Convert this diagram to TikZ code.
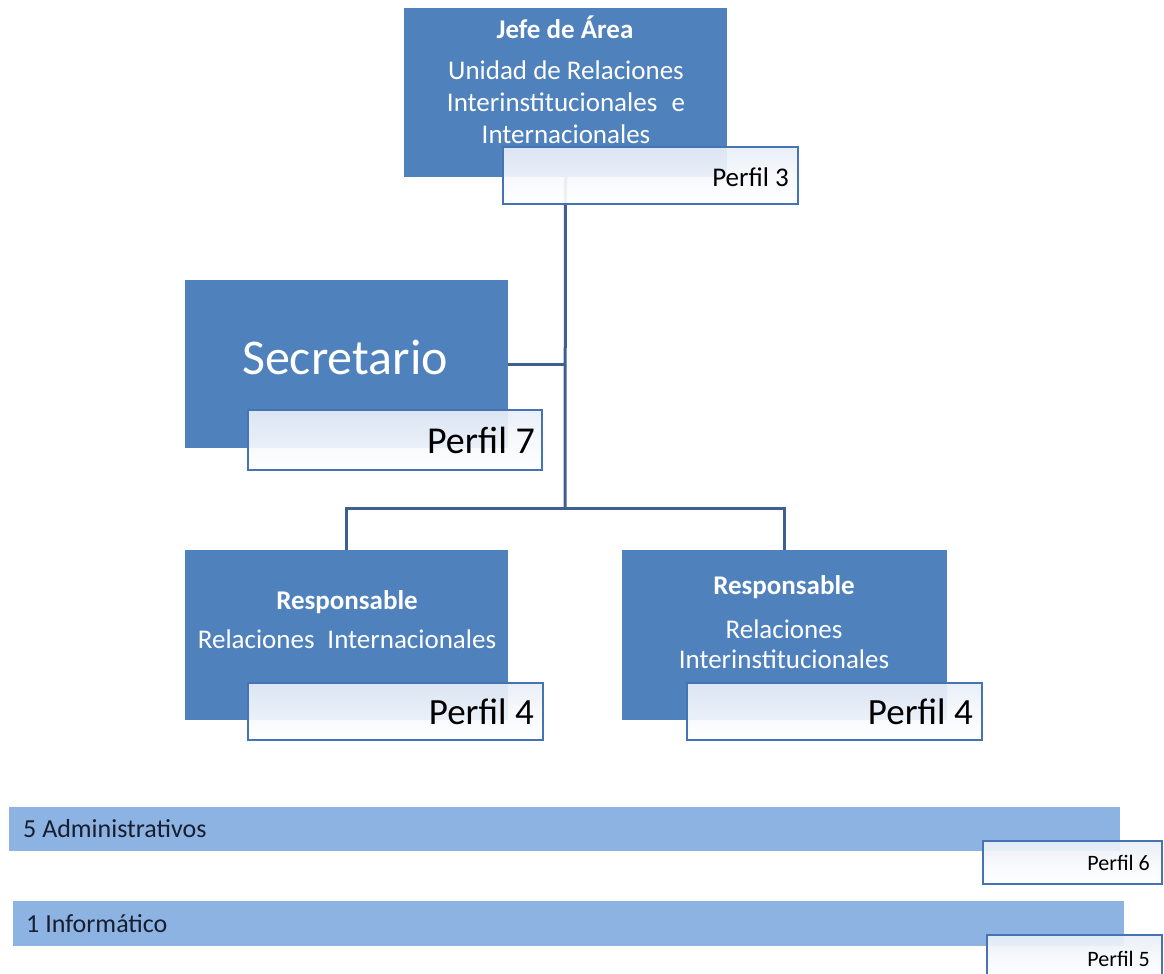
\documentclass[tikz,border=0pt]{standalone}
\usepackage{fontspec}
\setmainfont{Carlito}
\definecolor{unitblue}{RGB}{79,129,189}
\definecolor{barblue}{RGB}{141,179,226}
\definecolor{tagedge}{RGB}{70,115,180}
\definecolor{tagtop}{RGB}{232,238,247}
\definecolor{linkblue}{RGB}{62,96,145}
\definecolor{bartext}{RGB}{22,30,48}
\begin{document}
\begin{tikzpicture}[x=1pt,y=-1pt,
  unit/.style={fill=unitblue, draw=none, anchor=north west, inner sep=0pt, outer sep=0pt},
  bar/.style={fill=barblue, draw=none, anchor=north west, inner sep=0pt, outer sep=0pt},
  tag/.style={draw=tagedge, line width=2.5pt, top color=tagtop, bottom color=white,
    middle color=white!60!tagtop, fill opacity=0.92, anchor=north west, inner sep=0pt, outer sep=0pt},
  unittext/.style={text=white, font=\fontsize{27}{31}\selectfont, align=center, inner sep=0pt},
  tagtext/.style={text=black, anchor=east, inner sep=0pt},
  bartextstyle/.style={text=bartext, anchor=west, inner sep=0pt, font=\fontsize{26}{30}\selectfont},
  link/.style={draw=linkblue, line width=3pt}]
\useasboundingbox (0,0) rectangle (1164,974);
\clip (0,0) rectangle (1164,974);

% blue position boxes
\node[unit, minimum width=323pt, minimum height=169pt] (jefe) at (404,8) {};
\node[unit, minimum width=323pt, minimum height=168pt] (sec) at (185,280) {};
\node[unit, minimum width=323pt, minimum height=170pt] (respL) at (185,550) {};
\node[unit, minimum width=325pt, minimum height=170pt] (respR) at (622,550) {};

% connectors
\coordinate (hub) at (565,508);
\draw[link] (jefe.south) -- (hub);
\draw[link] (sec.east) -- (sec.east -| hub);
\draw[link] (respL.north) |- (hub) -| (respR.north);

% box texts
\node[unittext, font=\bfseries\fontsize{27}{30}\selectfont] (jefeT) at (565,27) {Jefe de Área};
\node[unittext, font=\fontsize{27}{32}\selectfont, anchor=north] (jefeU) at (566,61) {Unidad de Relaciones\\Interinstitucionales\hspace{0.3em} e\\Internacionales};
\node[unittext, font=\fontsize{50}{56}\selectfont] (secT) at (345,357) {Secretario};
\node[unittext, font=\bfseries\fontsize{27}{30}\selectfont] (respLT) at (347,602) {Responsable};
\node[unittext] (respLU) at (347,639) {Relaciones\hspace{0.25em} Internacionales};
\node[unittext, font=\bfseries\fontsize{27}{30}\selectfont] (respRT) at (784,587) {Responsable};
\node[unittext, anchor=north, font=\fontsize{27}{30}\selectfont] (respRU) at (784,620) {Relaciones\\Interinstitucionales};

% profile tags
\node[tag, minimum width=295pt, minimum height=57pt] (p3) at (503,147) {};
\node[tagtext, font=\fontsize{27}{30}\selectfont] at ([xshift=-9pt,yshift=-2pt]p3.east) {Perfil 3};
\node[tag, minimum width=294pt, minimum height=60pt] (p7) at (248,410) {};
\node[tagtext, font=\fontsize{38}{42}\selectfont] at ([xshift=-7pt,yshift=0pt]p7.east) {Perfil 7};
\node[tag, minimum width=295pt, minimum height=57pt] (p4L) at (248,683) {};
\node[tagtext, font=\fontsize{37}{42}\selectfont] at ([xshift=-9pt,yshift=0pt]p4L.east) {Perfil 4};
\node[tag, minimum width=295pt, minimum height=57pt] (p4R) at (687,683) {};
\node[tagtext, font=\fontsize{37}{42}\selectfont] at ([xshift=-9pt,yshift=0pt]p4R.east) {Perfil 4};

% staff bars
\node[bar, minimum width=1111pt, minimum height=44pt] (admin) at (9,807) {};
\node[bartextstyle] at ([xshift=14pt]admin.west) {5 Administrativos};
\node[tag, minimum width=179pt, minimum height=43pt] (p6) at (983,841) {};
\node[tagtext, font=\fontsize{22}{26}\selectfont] at ([xshift=-12pt]p6.east) {Perfil 6};
\node[bar, minimum width=1111pt, minimum height=45pt] (info) at (13,901) {};
\node[bartextstyle] at ([xshift=13pt]info.west) {1 Informático};
\node[tag, minimum width=175pt, minimum height=45pt] (p5) at (987,935) {};
\node[tagtext, font=\fontsize{22}{26}\selectfont] at ([xshift=-12pt,yshift=-1pt]p5.east) {Perfil 5};
\end{tikzpicture}
\end{document}
